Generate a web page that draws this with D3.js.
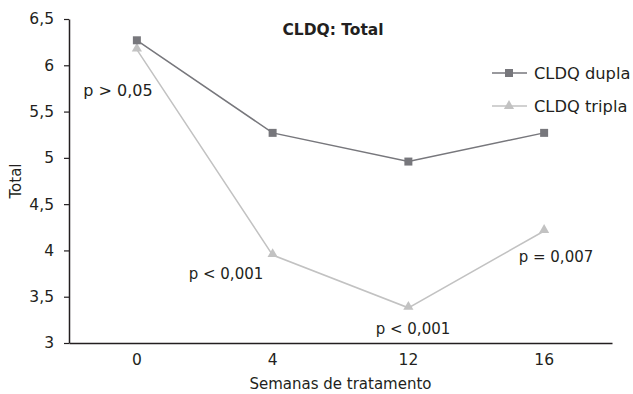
<!DOCTYPE html>
<html>
<head>
<meta charset="utf-8">
<script src="https://cdn.jsdelivr.net/npm/d3@7"></script>
<style>
  body { margin: 0; background: #fff; }
  text { font-family: "DejaVu Sans", sans-serif; fill: #231f20; }
</style>
</head>
<body>
<script>
// data
const semanas = ["0", "4", "12", "16"];
const dupla = [6.27, 5.27, 4.96, 5.27];
const tripla = [6.17, 3.95, 3.38, 4.21];
const yTicks = [3, 3.5, 4, 4.5, 5, 5.5, 6, 6.5];
const pLabels = ["p > 0,05", "p < 0,001", "p < 0,001", "p = 0,007"];

const W = 633, H = 394;
const m = {left: 69, right: 21, top: 19, bottom: 51};
const FONT = "'DejaVu Sans', sans-serif";

let svg = d3.select("body").append("svg")
  .attr("width", W)
  .attr("height", H);

let x = d3.scaleBand().domain(semanas).range([m.left, W - m.right]);
let y = d3.scaleLinear().domain([3, 6.5]).range([H - m.bottom, m.top]);
let cx = d => x(d) + x.bandwidth() / 2;

let fmt = d => String(d).replace(".", ",");

// y axis
let ya = svg.append("g")
  .attr("transform", "translate(" + m.left + ",0)")
  .call(d3.axisLeft(y).tickValues(yTicks).tickFormat(fmt).tickSize(5).tickSizeOuter(0));
ya.select(".domain").attr("stroke", "#231f20").attr("stroke-width", 1.5);
ya.selectAll(".tick line").attr("stroke", "#231f20").attr("stroke-width", 1.2);
ya.selectAll(".tick text").attr("font-size", 15.5).attr("x", -15).attr("font-family", FONT).attr("fill", "#231f20");

// x axis
let xa = svg.append("g")
  .attr("transform", "translate(0," + (H - m.bottom) + ")")
  .call(d3.axisBottom(x).tickSize(0).tickSizeOuter(0));
xa.select(".domain").attr("stroke", "#231f20").attr("stroke-width", 1.5);
xa.selectAll(".tick text").attr("font-size", 15.5).attr("dy", "1.25em").attr("font-family", FONT).attr("fill", "#231f20");

// axis titles
svg.append("text")
  .attr("x", (m.left + W - m.right) / 2)
  .attr("y", 389)
  .attr("text-anchor", "middle")
  .attr("font-size", 15)
  .text("Semanas de tratamento");

svg.append("text")
  .attr("transform", "translate(21," + ((m.top + H - m.bottom) / 2) + ") rotate(-90)")
  .attr("text-anchor", "middle")
  .attr("font-size", 15)
  .text("Total");

svg.append("text")
  .attr("x", 333)
  .attr("y", 35)
  .attr("text-anchor", "middle")
  .attr("font-size", 15.5)
  .attr("font-weight", "bold")
  .text("CLDQ: Total");

let line = d3.line()
  .x((d, i) => cx(semanas[i]))
  .y(d => y(d));

const cDupla = "#77777c", cTripla = "#c2c2c2";

svg.append("path").datum(tripla)
  .attr("d", line).attr("fill", "none").attr("stroke", cTripla).attr("stroke-width", 1.5);
svg.append("path").datum(dupla)
  .attr("d", line).attr("fill", "none").attr("stroke", cDupla).attr("stroke-width", 1.5);

let tri = d3.symbol().type(d3.symbolTriangle).size(45);
let sq = d3.symbol().type(d3.symbolSquare).size(64);

svg.selectAll(".tri").data(tripla).enter().append("path")
  .attr("d", tri)
  .attr("fill", cTripla)
  .attr("transform", (d, i) => "translate(" + cx(semanas[i]) + "," + (y(d) - 1) + ")");

svg.selectAll(".sq").data(dupla).enter().append("path")
  .attr("d", sq)
  .attr("fill", cDupla)
  .attr("transform", (d, i) => "translate(" + cx(semanas[i]) + "," + y(d) + ")");

// p-value labels
const pPos = [[118, 96], [226, 279], [413, 334], [556, 262]];
svg.selectAll(".plab").data(pLabels).enter().append("text")
  .attr("x", (d, i) => pPos[i][0])
  .attr("y", (d, i) => pPos[i][1])
  .attr("text-anchor", "middle")
  .attr("font-size", (d, i) => i == 0 ? 16 : 15)
  .text(d => d);

// legend
let series = [["CLDQ dupla", cDupla, sq], ["CLDQ tripla", cTripla, tri]];
let lg = svg.selectAll(".lg").data(series).enter().append("g")
  .attr("transform", (d, i) => "translate(492," + (73 + i * 33) + ")");
lg.append("line").attr("x1", 0).attr("x2", 35).attr("stroke", d => d[1]).attr("stroke-width", 1.5);
lg.append("path").attr("d", d => d[2]()).attr("fill", d => d[1]).attr("transform", "translate(17,0)");
lg.append("text").attr("x", 42).attr("y", 5.5).attr("font-size", 16.3).text(d => d[0]);
</script>
</body>
</html>
